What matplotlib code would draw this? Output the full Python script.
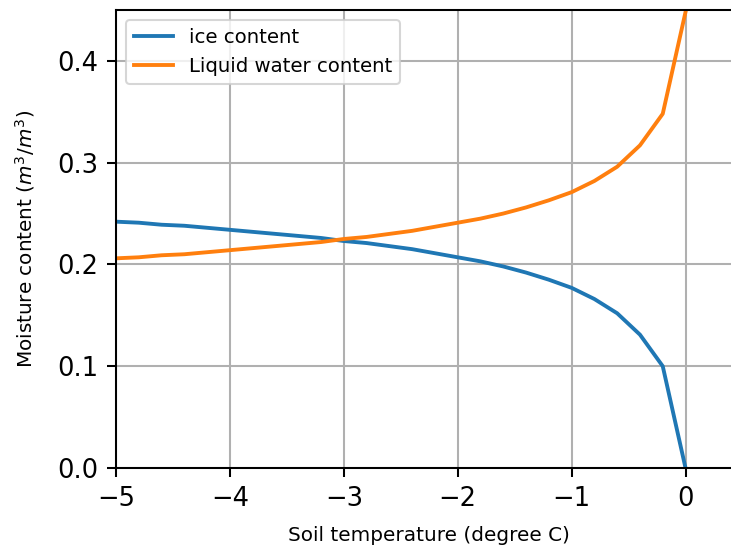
import matplotlib
matplotlib.use("Agg")
import matplotlib.pyplot as plt

# Soil temperature (degree C) and volumetric moisture fractions
temperature = [-5.0, -4.8, -4.6, -4.4, -4.2, -4.0, -3.8, -3.6, -3.4, -3.2,
               -3.0, -2.8, -2.6, -2.4, -2.2, -2.0, -1.8, -1.6, -1.4, -1.2,
               -1.0, -0.8, -0.6, -0.4, -0.2, 0.0]
ice_content = [0.242, 0.241, 0.239, 0.238, 0.236, 0.234, 0.232, 0.230, 0.228, 0.226,
               0.223, 0.221, 0.218, 0.215, 0.211, 0.207, 0.203, 0.198, 0.192, 0.185,
               0.177, 0.166, 0.152, 0.131, 0.100, 0.000]
liquid_content = [0.206, 0.207, 0.209, 0.210, 0.212, 0.214, 0.216, 0.218, 0.220, 0.222,
                  0.225, 0.227, 0.230, 0.233, 0.237, 0.241, 0.245, 0.250, 0.256, 0.263,
                  0.271, 0.282, 0.296, 0.317, 0.348, 0.448]

x_ticks = [-5, -4, -3, -2, -1, 0]
y_ticks = [0.0, 0.1, 0.2, 0.3, 0.4]

s = 1.85  # overall scale of line widths and text

fig = plt.figure(figsize=(7.31, 5.45), dpi=100)
ax = fig.add_axes([0.1587, 0.1413, 0.857, 0.8404])

ax.plot(temperature, ice_content, color="#1f77b4", lw=1.5 * s, label="ice content")
ax.plot(temperature, liquid_content, color="#ff7f0e", lw=1.5 * s, label="Liquid water content")

ax.set_xlim(-5, 0.5)
ax.set_ylim(0, 0.45)
ax.set_xticks(x_ticks)
ax.set_yticks(y_ticks)
ax.tick_params(labelsize=10 * s, width=0.8 * s, length=3.5 * s, pad=3.5 * s)
for sp in ax.spines.values():
    sp.set_linewidth(0.8 * s)

ax.grid(True, color="#b0b0b0", lw=0.8 * s)
ax.set_axisbelow(True)

ax.set_xlabel("Soil temperature (degree C)", fontsize=7.8 * s, labelpad=10)
ax.set_ylabel("Moisture content ($m^3/m^3$)", fontsize=7.8 * s, labelpad=14)

leg = ax.legend(loc="upper left", fontsize=7.7 * s)
leg.get_frame().set_linewidth(0.8 * s)

fig.savefig("out.png", dpi=100)
